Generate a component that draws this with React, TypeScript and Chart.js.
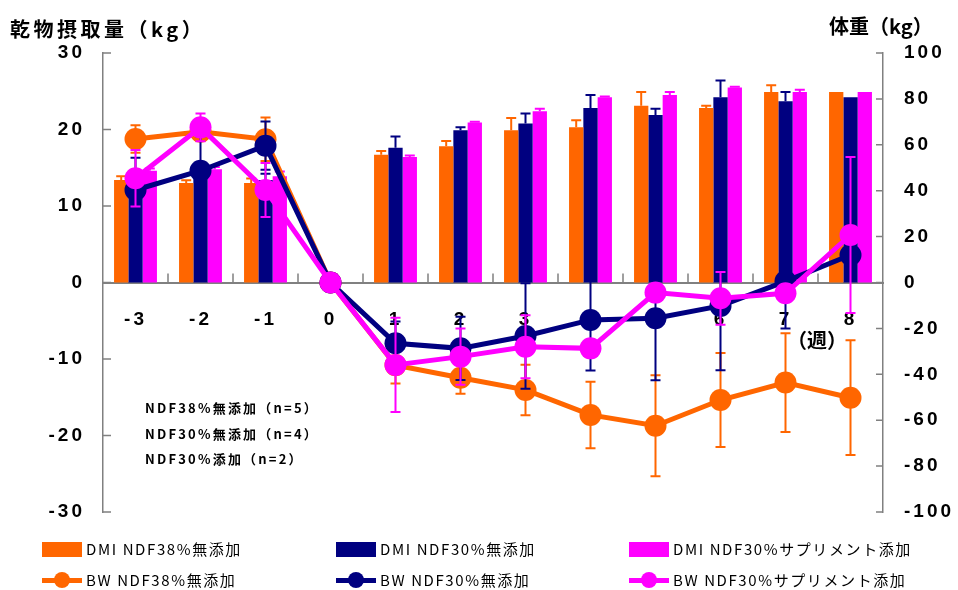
import React, { useEffect, useRef } from 'react';
import { Chart, registerables } from 'chart.js';
Chart.register(...registerables);

// ---- data ----
const weeks = ['-3', '-2', '-1', '0', '1', '2', '3', '4', '5', '6', '7', '8'];

const dmi38 = [13.4, 13.0, 13.0, null, 16.7, 17.8, 19.9, 20.3, 23.1, 22.8, 24.9, 24.9];
const dmi38Err = [0.5, 0.35, 0.6, null, 0.5, 0.7, 1.6, 0.9, 1.8, 0.3, 0.9, null];
const dmi30 = [14.6, 15.0, 13.4, null, 17.6, 19.9, 20.8, 22.8, 21.9, 24.2, 23.7, 24.2];
const dmi30Err = [1.7, null, 0.8, null, 1.5, 0.4, 1.3, 1.7, 0.8, 2.2, 1.2, null];
const dmiSup = [14.6, 14.8, 13.9, null, 16.4, 20.9, 22.4, 24.2, 24.5, 25.5, 24.9, 24.9];
const dmiSupErr = [0.3, 0.3, 0.6, null, 0.2, 0.1, 0.3, 0.1, 0.4, 0.1, 0.3, null];

const bw38 = [62.5, 65.7, 62.4, 0, -36, -41.5, -46.8, -57.7, -62.4, -51.2, -43.6, -50.2];
const bw38Err = [6, 4, 9.5, null, 8, 7, 11, 14.5, 22, 20.5, 21.5, 25];
const bw30 = [40.3, 48.7, 59.6, 0, -26.5, -28.7, -23.3, -16.3, -15.6, -10.2, 0.5, 12];
const bw30Err = [7, 15, 10.5, null, 9.5, 13.8, 23, 22, 27, 28, 20.5, null];
const bwSup = [45.4, 67.6, 40.3, 0, -35.9, -32.3, -28, -28.7, -4.4, -6.9, -4.7, 20.7];
const bwSupErr = [12.3, 6, 11.8, null, 20.5, 12.3, 13.7, null, null, 11.5, null, 34];

const dmiTicks = { min: -30, max: 30, step: 10 };
const bwTicks = { min: -100, max: 100, step: 20 };

const ORANGE = '#FF6600';
const NAVY = '#000080';
const MAGENTA = '#FF00FF';
const AXIS = '#808080';

const notes = ['NDF38%無添加（n=5）', 'NDF30%無添加（n=4）', 'NDF30%添加（n=2）'];
const barLegend = [
  { label: 'DMI NDF38%無添加', color: ORANGE },
  { label: 'DMI NDF30%無添加', color: NAVY },
  { label: 'DMI NDF30%サプリメント添加', color: MAGENTA },
];
const lineLegend = [
  { label: 'BW NDF38%無添加', color: ORANGE },
  { label: 'BW NDF30%無添加', color: NAVY },
  { label: 'BW NDF30%サプリメント添加', color: MAGENTA },
];

const errorBars = {
  id: 'errorBars',
  drawErr(chart: any, index: number, isBar: boolean) {
    const ds = chart.data.datasets[index] as any;
    if (!ds.errors || (ds.type === 'bar') !== isBar) return;
    const meta = chart.getDatasetMeta(index);
    const ys = chart.scales[ds.yAxisID];
    const ctx = chart.ctx;
    ctx.save();
    ctx.strokeStyle = ds.errColor;
    ctx.lineWidth = 2;
    meta.data.forEach((el: any, i: number) => {
      const v = ds.data[i];
      const e = ds.errors[i];
      if (v == null || e == null) return;
      const x = el.x;
      const top = ys.getPixelForValue(v + e);
      const bot = isBar ? ys.getPixelForValue(v) : ys.getPixelForValue(v - e);
      ctx.beginPath();
      ctx.moveTo(x, top);
      ctx.lineTo(x, bot);
      ctx.moveTo(x - 5, top);
      ctx.lineTo(x + 5, top);
      if (!isBar) {
        ctx.moveTo(x - 5, bot);
        ctx.lineTo(x + 5, bot);
      }
      ctx.stroke();
    });
    ctx.restore();
  },
  beforeDatasetDraw(chart: any, args: any) {
    (this as any).drawErr(chart, args.index, false);
  },
  afterDatasetDraw(chart: any, args: any) {
    (this as any).drawErr(chart, args.index, true);
  },
};

const axisDecor = {
  id: 'axisDecor',
  beforeDraw(chart: any) {
    (chart.ctx as any).letterSpacing = '3px';
  },
  beforeDatasetsDraw(chart: any) {
    const ctx = chart.ctx;
    (ctx as any).letterSpacing = '0px';
    const { left, right } = chart.chartArea;
    const xs = chart.scales.x;
    const y = chart.scales.y;
    const y2 = chart.scales.y2;
    const y0 = y.getPixelForValue(0);
    ctx.save();
    ctx.strokeStyle = AXIS;
    ctx.lineWidth = 1.5;
    ctx.beginPath();
    for (let i = 1; i < weeks.length; i++) {
      const xm = (xs.getPixelForValue(i - 1) + xs.getPixelForValue(i)) / 2;
      ctx.moveTo(xm, y0);
      ctx.lineTo(xm, y0 - 9);
    }
    y.ticks.forEach((t: any) => {
      const p = y.getPixelForValue(t.value);
      ctx.moveTo(left, p);
      ctx.lineTo(left + 8, p);
    });
    y2.ticks.forEach((t: any) => {
      const p = y2.getPixelForValue(t.value);
      ctx.moveTo(right, p);
      ctx.lineTo(right - 7, p);
    });
    ctx.stroke();
    ctx.restore();
  },
};

const tickFont = { family: '"Liberation Sans", Arial, sans-serif', size: 19, weight: 'bold' as const };

export default function App() {
  const ref = useRef<HTMLCanvasElement>(null);
  useEffect(() => {
    if (!ref.current) return;
    const bar = (label: string, data: any[], errs: any[], color: string) => ({
      type: 'bar' as const,
      label,
      data,
      errors: errs,
      errColor: color,
      backgroundColor: color,
      yAxisID: 'y',
      order: 10,
      categoryPercentage: 0.66,
      barPercentage: 1.0,
    });
    const line = (label: string, data: any[], errs: any[], color: string, order: number) => ({
      type: 'line' as const,
      label,
      data,
      errors: errs,
      errColor: color,
      borderColor: color,
      backgroundColor: color,
      pointBackgroundColor: color,
      pointBorderColor: color,
      pointRadius: 11,
      pointBorderWidth: 0,
      borderWidth: 5,
      yAxisID: 'y2',
      order,
    });
    const chart = new Chart(ref.current, {
      data: {
        labels: weeks,
        datasets: [
          bar('DMI NDF38%無添加', dmi38, dmi38Err, ORANGE),
          bar('DMI NDF30%無添加', dmi30, dmi30Err, NAVY),
          bar('DMI NDF30%サプリメント添加', dmiSup, dmiSupErr, MAGENTA),
          line('BW NDF38%無添加', bw38, bw38Err, ORANGE, 3),
          line('BW NDF30%無添加', bw30, bw30Err, NAVY, 2),
          line('BW NDF30%サプリメント添加', bwSup, bwSupErr, MAGENTA, 1),
        ] as any,
      },
      options: {
        responsive: false,
        maintainAspectRatio: false,
        animation: false,
        layout: { padding: { top: 53, bottom: 78, left: 0, right: 0 } },
        plugins: { legend: { display: false }, tooltip: { enabled: false } },
        scales: {
          x: {
            type: 'category',
            offset: true,
            position: { y: 0 } as any,
            grid: { display: false, drawTicks: false },
            border: { display: true, color: AXIS, width: 2 },
            ticks: { font: tickFont, color: '#000', padding: 26, maxRotation: 0, autoSkip: false },
          },
          y: {
            position: 'left',
            min: dmiTicks.min,
            max: dmiTicks.max,
            grid: { display: false, drawTicks: false },
            border: { display: true, color: AXIS, width: 1.5 },
            ticks: { stepSize: dmiTicks.step, font: tickFont, color: '#000', padding: 18 },
            afterFit: (s: any) => { s.width = 103; },
          },
          y2: {
            position: 'right',
            min: bwTicks.min,
            max: bwTicks.max,
            grid: { display: false, drawTicks: false },
            border: { display: true, color: AXIS, width: 1.5 },
            ticks: { stepSize: bwTicks.step, font: tickFont, color: '#000', padding: 21 },
            afterFit: (s: any) => { s.width = 75; },
          },
        },
      } as any,
      plugins: [axisDecor, errorBars],
    });
    return () => chart.destroy();
  }, []);

  const jp = '"Noto Sans CJK JP", "Noto Sans", sans-serif';
  const legendText: React.CSSProperties = { position: 'absolute', fontFamily: jp, fontSize: 15, lineHeight: '18px', letterSpacing: '1.6px', color: '#000', whiteSpace: 'nowrap' };
  const cols = [42, 336, 629];

  return (
    <div style={{ position: 'absolute', left: 0, top: 0, width: 958, height: 590, background: '#fff', overflow: 'hidden' }}>
      <canvas ref={ref} width={958} height={590} style={{ position: 'absolute', left: 0, top: 0, width: 958, height: 590 }} />
      <div style={{ position: 'absolute', left: 10, top: 14, fontFamily: jp, fontWeight: 'bold', fontSize: 20, letterSpacing: '3.5px', whiteSpace: 'nowrap' }}>乾物摂取量（kg）</div>
      <div style={{ position: 'absolute', left: 829, top: 11, fontFamily: jp, fontWeight: 'bold', fontSize: 20, whiteSpace: 'nowrap' }}>体重（kg）</div>
      {notes.map((n, i) => (
        <div key={n} style={{ position: 'absolute', left: 145, top: 399 + i * 25.5, fontFamily: jp, fontWeight: 'bold', fontSize: 13, lineHeight: '18px', letterSpacing: '2.2px', whiteSpace: 'nowrap' }}>{n}</div>
      ))}
      <div style={{ position: 'absolute', left: 787, top: 326, fontFamily: jp, fontWeight: 'bold', fontSize: 20, lineHeight: '28px', whiteSpace: 'nowrap' }}>（週）</div>
      {barLegend.map((l, i) => (
        <React.Fragment key={l.label}>
          <div style={{ position: 'absolute', left: cols[i], top: 542, width: 40, height: 15, background: l.color }} />
          <div style={{ ...legendText, left: cols[i] + 44, top: 540 }}>{l.label}</div>
        </React.Fragment>
      ))}
      {lineLegend.map((l, i) => (
        <React.Fragment key={l.label}>
          <div style={{ position: 'absolute', left: cols[i], top: 578, width: 40, height: 5, background: l.color }} />
          <div style={{ position: 'absolute', left: cols[i] + 12, top: 572, width: 16, height: 16, borderRadius: 8, background: l.color }} />
          <div style={{ ...legendText, left: cols[i] + 44, top: 571 }}>{l.label}</div>
        </React.Fragment>
      ))}
    </div>
  );
}
